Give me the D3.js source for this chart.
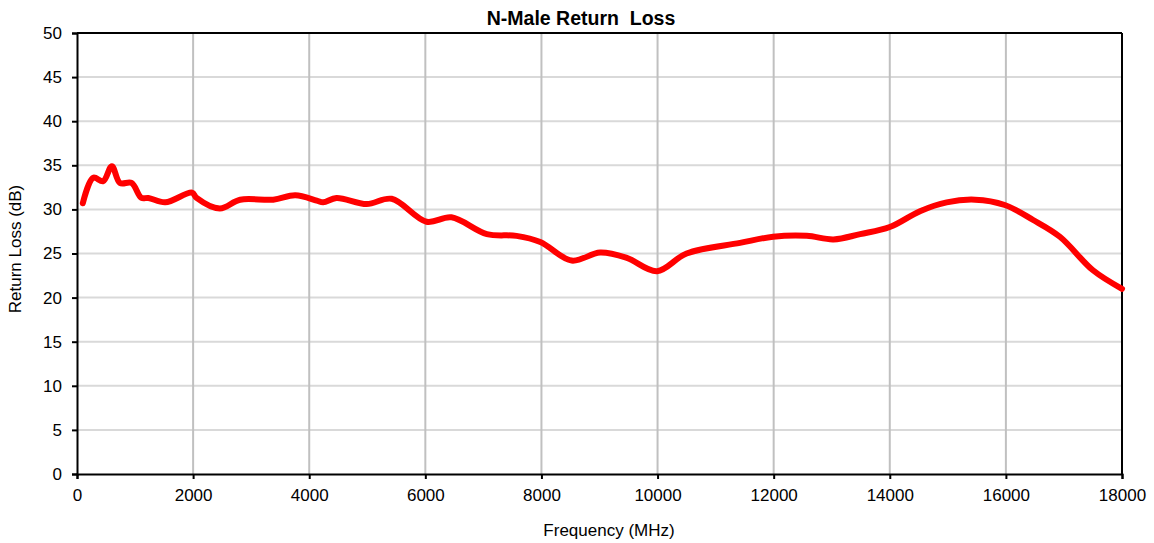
<!DOCTYPE html>
<html>
<head>
<meta charset="utf-8">
<script src="https://cdn.jsdelivr.net/npm/d3@7"></script>
<style>
  body { margin: 0; background: #fff; }
  svg { font-family: "Liberation Sans", Arial, sans-serif; }
</style>
</head>
<body>
<script>
const freqs = [100, 280, 450, 600, 740, 940, 1110, 1230, 1520, 1980, 2060, 2460, 2810, 3380, 3760, 4130, 4240, 4470, 4990, 5420, 6020, 6450, 7060, 7570, 7980, 8520, 9010, 9470, 9990, 10500, 11420, 11990, 12570, 13030, 13490, 14000, 14520, 14980, 15470, 15980, 16470, 16930, 17500, 18000]
const returnLoss = [30.7, 33.6, 33.2, 34.9, 33.0, 33.0, 31.3, 31.3, 30.8, 31.9, 31.3, 30.1, 31.1, 31.1, 31.6, 31.0, 30.8, 31.3, 30.6, 31.2, 28.6, 29.1, 27.2, 27.0, 26.3, 24.2, 25.1, 24.5, 23.0, 25.0, 26.2, 26.9, 27.0, 26.6, 27.2, 28.0, 29.8, 30.8, 31.1, 30.5, 28.8, 26.9, 23.1, 21.0]
const xTicks = [0, 2000, 4000, 6000, 8000, 10000, 12000, 14000, 16000, 18000]
const yTicks = [0, 5, 10, 15, 20, 25, 30, 35, 40, 45, 50]

const W = 1154, H = 543
const margin = {top: 33, right: 32, bottom: 69, left: 77}
const iw = W - margin.left - margin.right
const ih = H - margin.top - margin.bottom

const svg = d3.select("body").append("svg")
  .attr("width", W)
  .attr("height", H)

const x = d3.scaleLinear().domain([0, 18000]).range([0, iw])
const y = d3.scaleLinear().domain([0, 50]).range([ih, 0])

const g = svg.append("g")
  .attr("transform", `translate(${margin.left},${margin.top})`)

// gridlines
g.append("g").selectAll("line")
  .data(yTicks.filter(d => d > 0 && d < 50))
  .join("line")
  .attr("x1", 0).attr("x2", iw)
  .attr("y1", d => y(d)).attr("y2", d => y(d))
  .attr("stroke", "#d9d9d9").attr("stroke-width", 2)

g.append("g").selectAll("line")
  .data(xTicks.filter(d => d > 0 && d < 18000))
  .join("line")
  .attr("x1", d => x(d)).attr("x2", d => x(d))
  .attr("y1", 0).attr("y2", ih)
  .attr("stroke", "#c0c0c0").attr("stroke-width", 2)

// axes
const xAxis = g.append("g")
  .attr("transform", `translate(0,${ih})`)
  .call(d3.axisBottom(x).tickValues(xTicks).tickSize(5).tickPadding(10).tickFormat(d3.format("d")))
const yAxis = g.append("g")
  .call(d3.axisLeft(y).tickValues(yTicks).tickSize(5).tickPadding(10))

;[xAxis, yAxis].forEach(a => {
  a.select(".domain").attr("stroke", "#000").attr("stroke-width", 2)
  a.selectAll(".tick line").attr("stroke", "#000").attr("stroke-width", 2)
  a.selectAll("text").attr("font-size", 17).attr("fill", "#000")
    .attr("font-family", "Liberation Sans, Arial, sans-serif")
})

// frame top and right
g.append("line").attr("x1", 0).attr("x2", iw).attr("y1", 0).attr("y2", 0)
  .attr("stroke", "#000").attr("stroke-width", 2)
g.append("line").attr("x1", iw).attr("x2", iw).attr("y1", 0).attr("y2", ih)
  .attr("stroke", "#000").attr("stroke-width", 2)

// the curve
const line = d3.line()
  .x((d, i) => x(freqs[i]))
  .y(d => y(d))
  .curve(d3.curveCatmullRom.alpha(0.5))

g.append("path")
  .datum(returnLoss)
  .attr("fill", "none")
  .attr("stroke", "#ff0000")
  .attr("stroke-width", 6)
  .attr("stroke-linejoin", "round")
  .attr("stroke-linecap", "round")
  .attr("d", line)

// titles
svg.append("text")
  .attr("x", 581).attr("y", 25)
  .attr("text-anchor", "middle")
  .attr("font-size", 19.5).attr("font-weight", "bold")
  .attr("xml:space", "preserve")
  .text("N-Male Return  Loss")

svg.append("text")
  .attr("x", 609).attr("y", 536)
  .attr("text-anchor", "middle")
  .attr("font-size", 17)
  .text("Frequency (MHz)")

svg.append("text")
  .attr("transform", "translate(21,249) rotate(-90)")
  .attr("text-anchor", "middle")
  .attr("font-size", 17)
  .text("Return Loss (dB)")
</script>
</body>
</html>
